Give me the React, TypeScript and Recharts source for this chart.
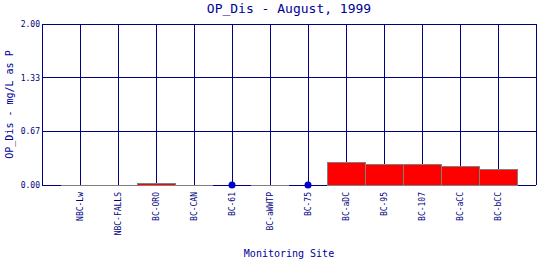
import { ComposedChart, Bar, Line, XAxis, YAxis, CartesianGrid } from "recharts";

const sites = [
  "NBC-Lw",
  "NBC-FALLS",
  "BC-ORO",
  "BC-CAN",
  "BC-61",
  "BC-aWWTP",
  "BC-75",
  "BC-aDC",
  "BC-95",
  "BC-107",
  "BC-aCC",
  "BC-bCC",
];
// measured OP_Dis, mg/L as P (null = no sample)
const opDis: (number | null)[] = [0, 0, 0.02, 0, null, 0, null, 0.28, 0.26, 0.26, 0.23, 0.195];
// below detection limit, plotted as a dot at zero
const nonDetect: (number | null)[] = [null, null, null, null, 0, null, 0, null, null, null, null, null];
const yTicks = [0, 0.67, 1.33, 2.0];

const data = sites.map((site, i) => ({ site, op: opDis[i], nd: nonDetect[i] }));

const NAVY = "#000080";
const BLUE = "#000099";
const FONT = "'DejaVu Sans Mono', monospace";

function BarShape(props: any) {
  const { x, y, width, height, payload } = props;
  if (payload.op == null) return <g />;
  if (payload.op === 0) {
    // zero reading: only the bar outline is left, a grey line on the baseline
    const by = y + height;
    return (
      <line x1={x} x2={x + width} y1={by} y2={by} stroke="#808080" strokeWidth={1} shapeRendering="crispEdges" />
    );
  }
  return (
    <rect
      x={x}
      y={y}
      width={width}
      height={height}
      fill="#ff0000"
      stroke="#808080"
      strokeWidth={1}
      shapeRendering="crispEdges"
    />
  );
}

function SiteTick(props: any) {
  const { x, y, payload } = props;
  const ty = y + 5;
  return (
    <text
      x={x}
      y={ty}
      transform={`rotate(-90, ${x}, ${ty})`}
      textAnchor="end"
      dy="0.35em"
      fill={NAVY}
      fontSize={8}
      fontFamily={FONT}
    >
      {payload.value}
    </text>
  );
}

export default function App() {
  return (
    <div style={{ position: "absolute", left: 0, top: 0, width: 540, height: 260, background: "#fff" }}>
      <svg width={540} height={20} style={{ position: "absolute", left: 0, top: 0 }}>
        <text x={289} y={13} textAnchor="middle" fill={BLUE} fontSize={13} fontFamily={FONT}>
          OP_Dis - August, 1999
        </text>
      </svg>
      <ComposedChart
        width={540}
        height={260}
        data={data}
        margin={{ top: 24, right: 4, bottom: 0, left: 0 }}
        barCategoryGap={0}
        style={{ position: "absolute", left: 0, top: 0 }}
      >
        <CartesianGrid stroke={NAVY} strokeWidth={1} shapeRendering="crispEdges" />
        <XAxis
          dataKey="site"
          height={75}
          padding={{ left: 19, right: 19 }}
          axisLine={false}
          tickLine={false}
          tickSize={0}
          interval={0}
          tick={<SiteTick />}
          label={{
            value: "Monitoring Site",
            position: "insideBottom",
            offset: 3,
            fill: BLUE,
            fontSize: 10,
            fontFamily: FONT,
          }}
        />
        <YAxis
          width={42}
          domain={[0, 2]}
          ticks={yTicks}
          interval={0}
          axisLine={{ stroke: NAVY, shapeRendering: "crispEdges" }}
          tickLine={false}
          tickSize={0}
          tickMargin={2}
          tickFormatter={(v: number) => v.toFixed(2)}
          tick={{ fill: NAVY, fontSize: 8, fontFamily: FONT }}
          label={{
            value: "OP_Dis - mg/L as P",
            position: "center",
            angle: -90,
            dx: -12,
            fill: BLUE,
            fontSize: 10,
            fontFamily: FONT,
          }}
        />
        <YAxis
          yAxisId="edge"
          orientation="right"
          width={0}
          domain={[0, 2]}
          tick={false}
          tickLine={false}
          axisLine={{ stroke: NAVY, shapeRendering: "crispEdges" }}
        />
        <Bar dataKey="op" shape={<BarShape />} minPointSize={1} isAnimationActive={false} />
        <Line
          dataKey="nd"
          stroke="none"
          dot={{ r: 3.5, fill: "#0000cc", stroke: "#0000cc", strokeWidth: 0 }}
          activeDot={false}
          isAnimationActive={false}
        />
      </ComposedChart>
    </div>
  );
}
